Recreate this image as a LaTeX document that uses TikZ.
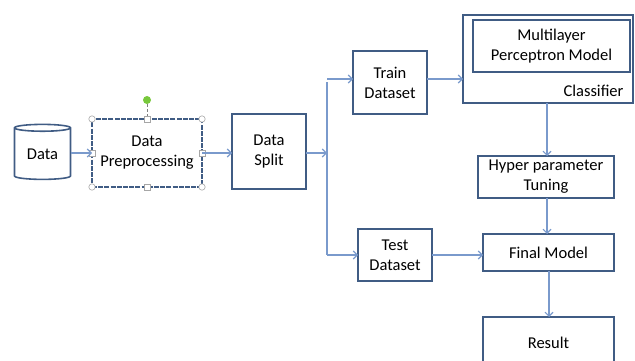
\documentclass[tikz,border=0pt]{standalone}
\usepackage{fontspec}
\setmainfont{Carlito}
\usepackage{tikz}
\usetikzlibrary{shapes,arrows.meta,calc,fit,positioning}

\definecolor{boxline}{RGB}{64,92,132}
\definecolor{flowline}{RGB}{122,154,204}
\definecolor{handlegreen}{RGB}{120,200,60}

\begin{document}
\begin{tikzpicture}[x=1pt,y=-1pt,>={Straight Barb[length=4pt,width=8pt]},
  font=\fontsize{16.5}{20}\selectfont, every fit/.style={inner sep=0pt, outer sep=0pt}]
			\tikzstyle{box}=[draw=boxline, line width=1.6pt]
			\tikzstyle{flow}=[->, draw=flowline, line width=1.1pt]
			\tikzstyle{handle}=[draw=gray!70, fill=white, line width=0.6pt]

			\useasboundingbox (0,0) rectangle (635,361);

			% input side
			\node (data) [cylinder, shape border rotate=90, aspect=0.22, draw=boxline, line width=1.6pt,
				minimum width=56pt, minimum height=55pt, inner sep=0pt] at (42.5,154) {\raisebox{-5pt}{Data}};
			\node (prep) [draw=boxline, line width=1.4pt, dash pattern=on 5pt off 1.2pt, fit={(92,119) (202,187)},
				label={[align=center]center:Data\\Preprocessing}] {};
			\node (split) [box, fit={(232,114) (306,189)}, label={[align=center]center:Data\\Split}] {};

			% selection handles
			\draw [gray, densely dashed, line width=0.6pt] (147,104) -- (147,116);
			\fill [handlegreen] (147,100) circle (4);
			\foreach \hx/\hy in {92/119, 202/119, 92/187, 202/187}
				\draw [handle] (\hx,\hy) circle (3.2);
			\foreach \hx/\hy in {147/119, 92/153, 202/153, 147/187}
				\draw [handle] (\hx-2.8,\hy-2.8) rectangle (\hx+2.8,\hy+2.8);

			% datasets
			\node (train) [box, fit={(353,51) (427,114)}, label={[align=center]center:Train\\Dataset}] {};
			\node (test) [box, fit={(358,229) (432,281)}, label={[align=center]center:Test\\Dataset}] {};
			\coordinate (bus) at (327,153);

			% model side
			\node (clf) [box, fit={(463,15) (633,103)}] {};
			\node (mlp) [box, fit={(473,20) (630,72)}, label={[align=center]center:Multilayer\\Perceptron Model}] {};
			\node (clftext) [anchor=base east] at (627,96) {Classifier};
			\node (tune) [box, fit={(478,156) (614,198)}, label={[align=center]center:Hyper parameter\\Tuning}] {};
			\node (final) [box, fit={(483,234) (614,271)}, label=center:{Final Model}] {};
			\node (result) [box, fit={(483,317) (614,368)}, label=center:{Result}] {};

			\draw [flow] (data.east |- 0,153) -- (prep.west |- 0,153);
			\draw [flow] (prep.east |- 0,153) -- (split.west |- 0,153);
			\draw [flow] (split.east |- 0,153) -- (bus);
			\draw [flow, -] (bus |- train.west) -- (bus |- test.west);
			\draw [flow] (bus |- 0,79) -- (train.west |- 0,79);
			\draw [flow] (bus |- 0,255) -- (test.west |- 0,255);
			\draw [flow] (train.east |- 0,79) -- (clf.west |- 0,79);
			\draw [flow] (clf.south -| 547,0) -- (tune.north -| 547,0);
			\draw [flow] (tune.south -| 547,0) -- (final.north -| 547,0);
			\draw [flow] (test.east |- 0,255) -- (final.west |- 0,255);
			\draw [flow] (final.south -| 549,0) -- (result.north -| 549,0);
		\end{tikzpicture}
\end{document}
